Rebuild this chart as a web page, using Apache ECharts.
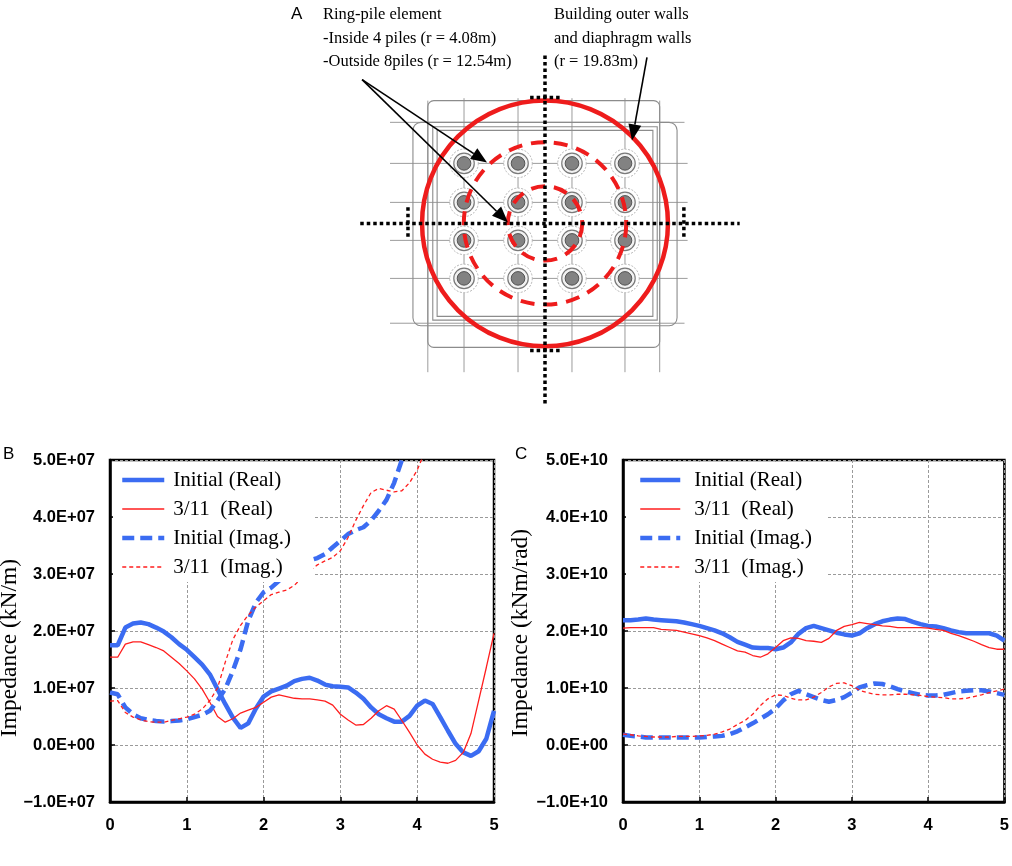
<!DOCTYPE html>
<html><head><meta charset="utf-8">
<script src="https://cdn.jsdelivr.net/npm/echarts@6/dist/echarts.min.js"></script>
<style>html,body{margin:0;padding:0;background:#fff}#c{width:1012px;height:866px}</style>
</head><body><div id="c"></div><script>
// ---------- data ----------
const freq = [0,0.1,0.2,0.3,0.4,0.5,0.6,0.7,0.8,0.9,1.0,1.1,1.2,1.3,1.4,1.5,1.6,1.7,1.8,1.9,2.0,2.1,2.2,2.3,2.4,2.5,2.6,2.7,2.8,2.9,3.0,3.1,3.2,3.3,3.4,3.5,3.6,3.7,3.8,3.9,4.0,4.1,4.2,4.3,4.4,4.5,4.6,4.7,4.8,4.9,5.0];
const seriesNames = ['Initial (Real)', '3/11  (Real)', 'Initial (Imag.)', '3/11  (Imag.)'];
// Panel B : horizontal impedance, unit 1E+07 kN/m
const bInitReal = [1.75,1.75,2.06,2.13,2.15,2.12,2.06,1.99,1.89,1.77,1.67,1.54,1.41,1.24,0.98,0.72,0.48,0.30,0.38,0.64,0.85,0.94,0.99,1.04,1.12,1.16,1.18,1.13,1.06,1.03,1.02,1.01,0.92,0.81,0.66,0.54,0.47,0.41,0.41,0.51,0.69,0.78,0.72,0.49,0.25,0.02,-0.13,-0.19,-0.11,0.11,0.60];
const bShockReal = [1.54,1.54,1.77,1.81,1.81,1.76,1.71,1.65,1.54,1.43,1.30,1.16,0.98,0.75,0.50,0.40,0.46,0.56,0.61,0.66,0.75,0.84,0.88,0.85,0.82,0.81,0.81,0.79,0.77,0.70,0.54,0.44,0.35,0.36,0.47,0.60,0.69,0.63,0.43,0.22,0.00,-0.16,-0.25,-0.30,-0.32,-0.27,-0.13,0.20,0.78,1.36,1.96];
const bInitImag = [0.92,0.89,0.66,0.54,0.47,0.44,0.42,0.41,0.42,0.43,0.45,0.49,0.53,0.60,0.78,0.98,1.30,1.68,2.18,2.50,2.68,2.76,2.88,3.05,3.13,3.19,3.24,3.28,3.35,3.47,3.58,3.70,3.77,3.82,3.94,4.11,4.30,4.60,5.00,5.40,null,null,null,null,null,null,null,null,null,null,null];
const bShockImag = [0.77,0.78,0.57,0.49,0.44,0.41,0.40,0.40,0.43,0.46,0.49,0.54,0.63,0.78,1.00,1.45,1.85,2.10,2.28,2.42,2.53,2.64,2.68,2.72,2.80,2.94,3.06,3.16,3.23,3.29,3.41,3.64,3.94,4.20,4.43,4.50,4.47,4.44,4.46,4.60,4.82,5.15,null,null,null,null,null,null,null,null,null];
// Panel C : rocking impedance, unit 1E+10 kNm/rad
const cInitReal = [2.19,2.19,2.20,2.22,2.20,2.19,2.18,2.17,2.15,2.12,2.09,2.05,2.01,1.96,1.89,1.81,1.76,1.71,1.70,1.70,1.68,1.71,1.80,1.95,2.05,2.09,2.05,2.01,1.97,1.94,1.92,1.96,2.05,2.12,2.17,2.20,2.22,2.21,2.16,2.12,2.09,2.08,2.05,2.01,1.98,1.96,1.96,1.96,1.96,1.92,1.83];
const cShockReal = [2.05,2.06,2.06,2.06,2.06,2.03,2.02,2.01,1.98,1.95,1.92,1.88,1.83,1.77,1.71,1.65,1.63,1.57,1.54,1.60,1.71,1.83,1.88,1.87,1.83,1.82,1.80,1.87,2.01,2.08,2.11,2.15,2.13,2.11,2.09,2.08,2.06,2.06,2.06,2.06,2.05,2.03,2.01,1.96,1.92,1.87,1.82,1.76,1.71,1.68,1.68];
const cInitImag = [0.18,0.16,0.15,0.13,0.13,0.13,0.13,0.13,0.13,0.13,0.13,0.14,0.15,0.16,0.19,0.24,0.31,0.38,0.46,0.54,0.64,0.78,0.89,0.95,0.89,0.84,0.79,0.76,0.79,0.84,0.92,1.01,1.05,1.08,1.07,1.03,0.98,0.94,0.91,0.88,0.87,0.87,0.88,0.91,0.94,0.95,0.96,0.96,0.94,0.91,0.88];
const cShockImag = [0.19,0.18,0.16,0.15,0.14,0.14,0.14,0.15,0.15,0.15,0.16,0.17,0.19,0.23,0.28,0.36,0.43,0.54,0.69,0.81,0.88,0.87,0.82,0.79,0.79,0.84,0.92,1.02,1.08,1.09,1.04,0.96,0.92,0.89,0.88,0.88,0.89,0.89,0.88,0.87,0.85,0.84,0.83,0.81,0.81,0.82,0.85,0.88,0.92,0.95,0.98];
const xTickLabels = ['0','1','2','3','4','5'];
const bTickLabels = ['\u22121.0E+07','0.0E+00','1.0E+07','2.0E+07','3.0E+07','4.0E+07','5.0E+07'];
const cTickLabels = ['\u22121.0E+10','0.0E+00','1.0E+10','2.0E+10','3.0E+10','4.0E+10','5.0E+10'];
// Panel A : plan sketch (drawing units, origin = building centre)
const ringCircles = [[0,0,6.0,1],[0,0,13.1,1],[0,0,19.83,0]];   // cx, cy, drawn radius, dashed?
const pileCols = [-13.06,-4.35,4.35,12.9];
const pileRows = [9.68,3.39,-2.74,-8.87];
const pileRadii = [2.3,1.65,1.1];
const planLines = [
  [-13.06,20.2,-13.06,-24.0],[-4.35,20.2,-4.35,-24.0],[4.35,20.2,4.35,-24.0],[12.9,20.2,12.9,-24.0],
  [-18.9,19.8,-18.9,-24.0],[18.5,19.8,18.5,-24.0],
  [-25,9.68,23,9.68],[-25,3.39,23,3.39],[-25,-2.74,23,-2.74],[-25,-8.87,23,-8.87],
  [-25,16.3,22.5,16.3],[-25,-16.1,22.5,-16.1]
];
const planRects = [
  [-18.9,19.8,18.5,-20.0,6],[-21.3,16.3,21.3,-16.5,8],[-18.1,15.6,18.1,-15.6,0],[-17.4,15.0,17.4,-15.0,0]
];
const dottedLines = [
  [0,27.1,0,-29.4],[-29.8,0,31.4,0],[-2.4,20.3,2.6,20.3],[-2.4,-20.5,2.7,-20.5],[-22.1,2.6,-22.1,-2.4],[22.4,2.6,22.4,-2.4]
];
const arrows = [[-29.5,23.2,-9.35,9.84],[-29.5,23.2,-5.97,0.16],[16.45,26.77,14.03,13.39]];
const annoLeft = ['Ring-pile element','-Inside 4 piles (r = 4.08m)','-Outside 8piles (r = 12.54m)'];
const annoRight = ['Building outer walls','and diaphragm walls','(r = 19.83m)'];

// ---------- build ----------
const BLUE = '#3b6cf2', RED = '#ff1e1e';
const pair = a => freq.map((f,i)=>[f,a[i]]);
const styles = [
  {color:BLUE, width:4.5, type:'solid'},
  {color:RED, width:1.3, type:'solid'},
  {color:BLUE, width:4.5, type:[12,6]},
  {color:RED, width:1.3, type:[4,3]}
];
function lineSeries(name, data, idx, st){
  return {type:'line', name, data:pair(data), xAxisIndex:idx, yAxisIndex:idx, symbol:'none', showSymbol:false,
    lineStyle:{color:st.color, width:st.width, type:st.type, cap:'butt'}, itemStyle:{color:st.color},
    z: 3, animation:false, connectNulls:false};
}
const pilePts = [];
pileRows.forEach(r=>pileCols.forEach(c=>pilePts.push([c,r])));

function xAxisFor(i){
  return {gridIndex:i, type:'value', min:0, max:5, interval:1,
    axisLine:{show:true, onZero:false, lineStyle:{color:'#000', width:2.5}},
    axisTick:{show:true, inside:true, length:5, lineStyle:{color:'#000', width:1.5}},
    axisLabel:{color:'#000', fontFamily:'Liberation Sans', fontWeight:'bold', fontSize:16.5, margin:15,
      formatter:v=>xTickLabels[Math.round(v)]},
    splitLine:{show:true, lineStyle:{color:'#9a9a9a', type:[3,2], width:1}}};
}
function yAxisFor(i, labels){
  return {gridIndex:i, type:'value', min:-1, max:5, interval:1,
    axisLine:{show:true, onZero:false, lineStyle:{color:'#000', width:2.5}},
    axisTick:{show:true, inside:true, length:5, lineStyle:{color:'#000', width:1.5}},
    axisLabel:{color:'#000', fontFamily:'Liberation Sans', fontWeight:'bold', fontSize:16.5, margin:15,
      formatter:v=>labels[Math.round(v+1)]},
    splitLine:{show:true, lineStyle:{color:'#9a9a9a', type:[3,2], width:1}}};
}
function legendFor(i, left, pad, textPad, iw){
  return {show:true, orient:'vertical', left, top:462, padding:pad, itemWidth:iw, itemHeight:14, itemGap:7,
    backgroundColor:'#fff', z:10, selectedMode:false,
    textStyle:{fontFamily:'Liberation Serif', fontSize:21, lineHeight:22, color:'#000', padding:[0,0,0,textPad]},
    data: seriesNames.map((n,k)=>({name:n,
      itemStyle:{color:'rgba(0,0,0,0)', borderColor:'rgba(0,0,0,0)', borderWidth:0, opacity:0},
      lineStyle:{color:styles[k].color, width:styles[k].width, type:styles[k].type, opacity:1}}))};
}

const chart = echarts.init(document.getElementById('c'), null, {renderer:'canvas'});
const graphics = [
  {type:'text', x:291, y:14, style:{text:'A', font:'17px "Liberation Sans"', fill:'#000', verticalAlign:'middle'}},
  {type:'text', x:3, y:454, style:{text:'B', font:'17px "Liberation Sans"', fill:'#000', verticalAlign:'middle'}},
  {type:'text', x:515, y:454, style:{text:'C', font:'17px "Liberation Sans"', fill:'#000', verticalAlign:'middle'}},
  {type:'text', x:10, y:737, rotation:Math.PI/2, style:{text:'Impedance (kN/m)', font:'23.5px "Liberation Serif"', fill:'#000', align:'left', verticalAlign:'middle'}},
  {type:'text', x:521, y:737, rotation:Math.PI/2, style:{text:'Impedance (kNm/rad)', font:'23.5px "Liberation Serif"', fill:'#000', align:'left', verticalAlign:'middle'}}
];
annoLeft.forEach((t,k)=>graphics.push({type:'text', x:323, y:15+k*23.5, style:{text:t, font:'16.5px "Liberation Serif"', fill:'#000', verticalAlign:'middle'}}));
annoRight.forEach((t,k)=>graphics.push({type:'text', x:554, y:15+k*23.5, style:{text:t, font:'16.5px "Liberation Serif"', fill:'#000', verticalAlign:'middle'}}));

const segRender = (stroke, lw, dash) => (params, api) => {
  const p1 = api.coord([api.value(0), api.value(1)]);
  const p2 = api.coord([api.value(2), api.value(3)]);
  return {type:'line', shape:{x1:p1[0], y1:p1[1], x2:p2[0], y2:p2[1]}, style:{stroke, lineWidth:lw, lineDash:dash}};
};
const diagramBase = {type:'custom', xAxisIndex:2, yAxisIndex:2, coordinateSystem:'cartesian2d', animation:false, silent:true, clip:false};

chart.setOption({
  animation:false,
  backgroundColor:'#fff',
  graphic: graphics,
  grid:[
    {left:110, top:460, width:384, height:342, show:true, borderColor:'#000', borderWidth:2.5, backgroundColor:'transparent'},
    {left:623, top:460, width:384, height:342, show:true, borderColor:'#000', borderWidth:2.5, backgroundColor:'transparent'},
    {left:278.4, top:0.2, width:465, height:409.2, show:false}
  ],
  xAxis:[xAxisFor(0), xAxisFor(1), {gridIndex:2, type:'value', min:-43, max:32, show:false}],
  yAxis:[yAxisFor(0, bTickLabels), yAxisFor(1, cTickLabels), {gridIndex:2, type:'value', min:-30, max:36, show:false}],
  legend:[legendFor(0, 113, [7,22,4,7], 4, 42), legendFor(1, 626, [7,14,4,12], 9, 40)],
  series:[
    lineSeries(seriesNames[0], bInitReal, 0, styles[0]),
    lineSeries(seriesNames[1], bShockReal, 0, styles[1]),
    lineSeries(seriesNames[2], bInitImag, 0, styles[2]),
    lineSeries(seriesNames[3], bShockImag, 0, styles[3]),
    lineSeries(seriesNames[0], cInitReal, 1, styles[0]),
    lineSeries(seriesNames[1], cShockReal, 1, styles[1]),
    lineSeries(seriesNames[2], cInitImag, 1, styles[2]),
    lineSeries(seriesNames[3], cShockImag, 1, styles[3]),
    Object.assign({}, diagramBase, {z:1, data:planLines, renderItem:segRender('#9c9c9c', 1, null)}),
    Object.assign({}, diagramBase, {z:1, data:planRects, renderItem:(params, api)=>{
      const p1 = api.coord([api.value(0), api.value(1)]);
      const p2 = api.coord([api.value(2), api.value(3)]);
      return {type:'rect', shape:{x:Math.min(p1[0],p2[0]), y:Math.min(p1[1],p2[1]), width:Math.abs(p2[0]-p1[0]), height:Math.abs(p2[1]-p1[1]), r:api.value(4)},
        style:{fill:'none', stroke:'#8c8c8c', lineWidth:1.1}};
    }}),
    Object.assign({}, diagramBase, {z:2, data:pilePts, renderItem:(params, api)=>{
      const p = api.coord([api.value(0), api.value(1)]);
      const r0 = api.size([pileRadii[0],0])[0], r1 = api.size([pileRadii[1],0])[0], r2 = api.size([pileRadii[2],0])[0];
      return {type:'group', children:[
        {type:'circle', shape:{cx:p[0], cy:p[1], r:r0}, style:{fill:'#fff', stroke:'#b5b5b5', lineWidth:1, lineDash:[2,1.5]}},
        {type:'circle', shape:{cx:p[0], cy:p[1], r:r1}, style:{fill:'#f2f2f2', stroke:'#7a7a7a', lineWidth:1.2}},
        {type:'circle', shape:{cx:p[0], cy:p[1], r:r2}, style:{fill:'#6e6e6e', stroke:'#444', lineWidth:1, opacity:0.85}}
      ]};
    }}),
    Object.assign({}, diagramBase, {z:3, data:ringCircles, renderItem:(params, api)=>{
      const c = api.coord([api.value(0), api.value(1)]);
      const r = api.size([api.value(2), 0])[0];
      const dashed = api.value(3) === 1;
      return {type:'circle', shape:{cx:c[0], cy:c[1], r}, style:{fill:'none', stroke:'#ee1c1c', lineWidth:dashed?4:4.5, lineDash:dashed?[14,9]:null}};
    }}),
    Object.assign({}, diagramBase, {z:4, data:dottedLines, renderItem:segRender('#000', 3.5, [3.5,3])}),
    Object.assign({}, diagramBase, {z:5, data:arrows, renderItem:(params, api)=>{
      const p1 = api.coord([api.value(0), api.value(1)]);
      const p2 = api.coord([api.value(2), api.value(3)]);
      const ang = Math.atan2(p2[1]-p1[1], p2[0]-p1[0]);
      const L = 16, W = 6.5;
      const bx = p2[0]-L*Math.cos(ang), by = p2[1]-L*Math.sin(ang);
      const nx = -Math.sin(ang)*W, ny = Math.cos(ang)*W;
      return {type:'group', children:[
        {type:'line', shape:{x1:p1[0], y1:p1[1], x2:bx, y2:by}, style:{stroke:'#000', lineWidth:1.6}},
        {type:'polygon', shape:{points:[[p2[0],p2[1]],[bx+nx,by+ny],[bx-nx,by-ny]]}, style:{fill:'#000'}}
      ]};
    }})
  ]
});
</script></body></html>
